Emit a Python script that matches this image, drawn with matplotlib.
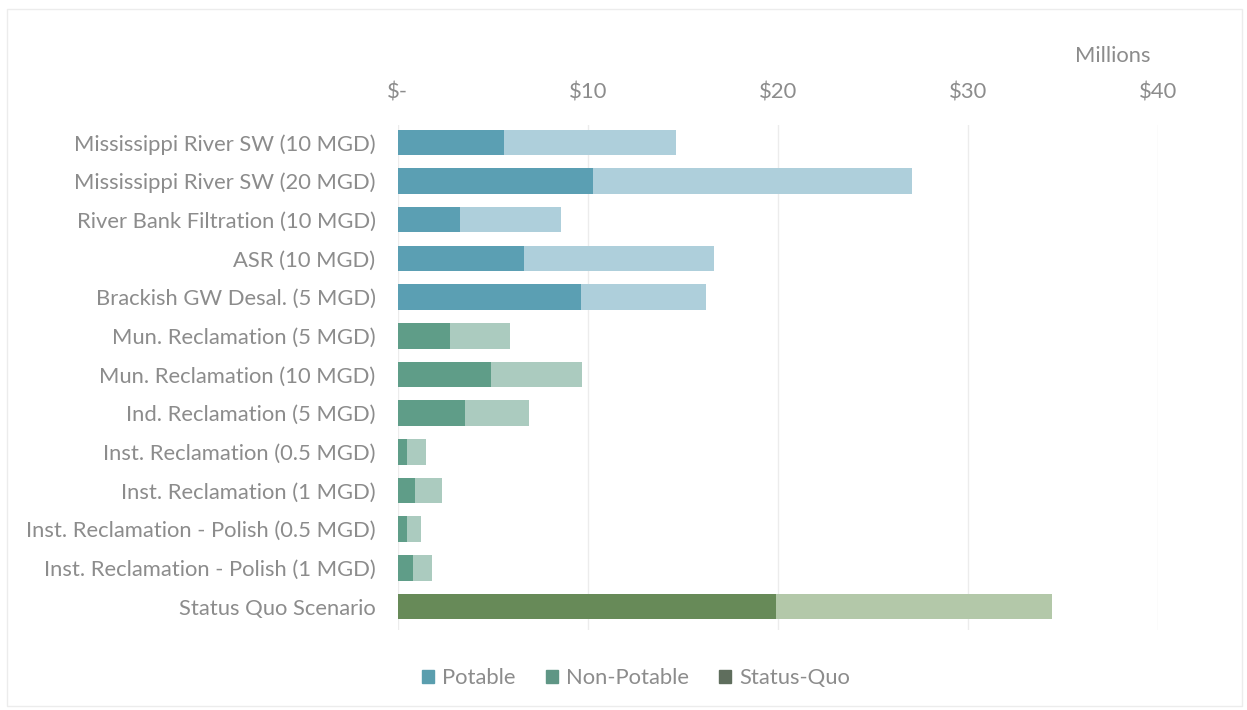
import numpy as np
import matplotlib.pyplot as plt
from matplotlib.patches import Patch, Rectangle

plt.rcParams['font.family'] = ['Lato', 'DejaVu Sans']

options = ["Mississippi River SW (10 MGD)", "Mississippi River SW (20 MGD)",
           "River Bank Filtration (10 MGD)", "ASR (10 MGD)",
           "Brackish GW Desal. (5 MGD)", "Mun. Reclamation (5 MGD)",
           "Mun. Reclamation (10 MGD)", "Ind. Reclamation (5 MGD)",
           "Inst. Reclamation (0.5 MGD)", "Inst. Reclamation (1 MGD)",
           "Inst. Reclamation - Polish (0.5 MGD)",
           "Inst. Reclamation - Polish (1 MGD)", "Status Quo Scenario"]
# cost split in two parts, $ millions
part1 = [5.60, 10.26, 3.30, 6.65, 9.62, 2.74, 4.89, 3.56, 0.49, 0.89, 0.49, 0.81, 19.89]
part2 = [9.03, 16.79, 5.30, 10.01, 6.59, 3.15, 4.83, 3.35, 1.02, 1.43, 0.74, 1.00, 14.53]
group = ["Potable"] * 5 + ["Non-Potable"] * 7 + ["Status-Quo"]
xticks = [0, 10, 20, 30, 40]
xticklabels = ["$-", "$10", "$20", "$30", "$40"]

dark = {"Potable": "#5b9fb3", "Non-Potable": "#5f9d88", "Status-Quo": "#678a58"}
light = {"Potable": "#aecfdb", "Non-Potable": "#abcbbf", "Status-Quo": "#b3c8a9"}
legend_col = {"Potable": "#5a9eae", "Non-Potable": "#5f9685", "Status-Quo": "#5f6e5d"}
grey = "#8c8c8c"
fs = 15.8

fig = plt.figure(figsize=(12.47, 7.10), dpi=100)
fig.patches.append(Rectangle((0.006, 0.006), 0.99, 0.982, transform=fig.transFigure,
                             fill=False, edgecolor="#ececec", linewidth=1))
ax = fig.add_axes([0.319, 0.113, 0.6095, 0.711])

y = np.arange(len(options))
c1 = [dark[g] for g in group]
c2 = [light[g] for g in group]
ax.barh(y, part1, height=0.66, color=c1, zorder=2)
ax.barh(y, part2, left=part1, height=0.66, color=c2, zorder=2)

ax.set_xlim(0, 40)
ax.set_ylim(12.6, -0.45)
ax.set_xticks(xticks)
ax.set_xticklabels(xticklabels)
ax.xaxis.tick_top()
ax.tick_params(axis='x', length=0, pad=16, labelsize=fs, labelcolor=grey)
ax.set_yticks(y)
ax.set_yticklabels(options)
ax.tick_params(axis='y', length=0, pad=16, labelsize=fs, labelcolor=grey)
ax.grid(axis='x', color="#ececec", linewidth=1, zorder=0)
for s in ax.spines.values():
    s.set_visible(False)

fig.text(0.892, 0.921, "Millions", fontsize=fs, color=grey, ha='center', va='center')

handles = [Patch(color=legend_col[k]) for k in ["Potable", "Non-Potable", "Status-Quo"]]
fig.legend(handles, ["Potable", "Non-Potable", "Status-Quo"], loc='center',
           bbox_to_anchor=(0.51, 0.045), ncol=3, frameon=False, fontsize=fs,
           labelcolor=grey, handlelength=0.55, handleheight=0.55, handletextpad=0.35,
           columnspacing=1.4)

fig.savefig("out.png", dpi=100, facecolor="white")
